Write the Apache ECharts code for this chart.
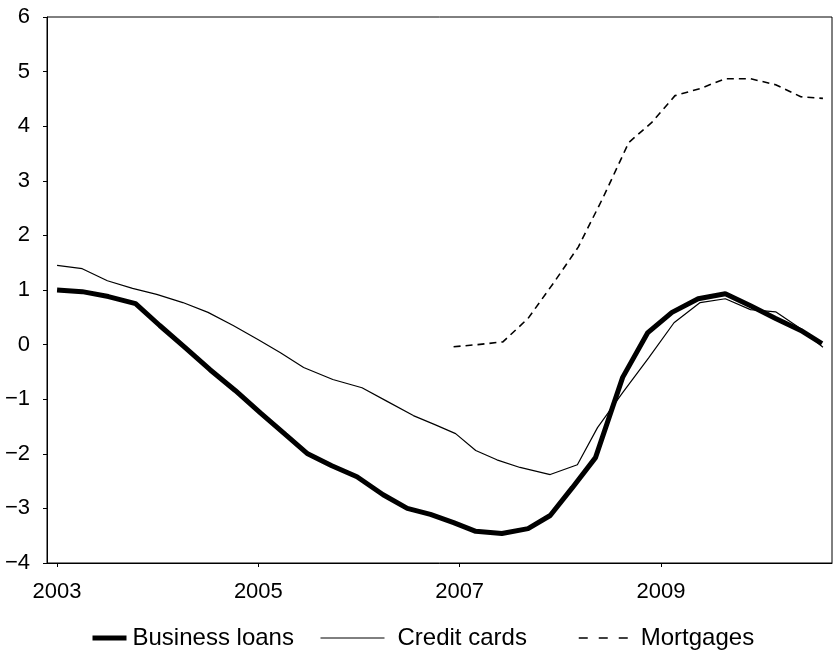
<!DOCTYPE html>
<html>
<head>
<meta charset="utf-8">
<script src="https://cdn.jsdelivr.net/npm/echarts@6/dist/echarts.min.js"></script>
<style>
  html, body { margin: 0; padding: 0; background: #fff; }
  #chart { width: 836px; height: 662px; }
</style>
</head>
<body>
<div id="chart"></div>
<script>
// 数据
const bizYears = [2003.00, 2003.25, 2003.51, 2003.78, 2004.02, 2004.27, 2004.52, 2004.77, 2005.02, 2005.27,
  2005.49, 2005.73, 2005.98, 2006.24, 2006.48, 2006.71, 2006.94, 2007.16, 2007.42, 2007.68,
  2007.90, 2008.12, 2008.35, 2008.62, 2008.87, 2009.11, 2009.37, 2009.64, 2009.89, 2010.14,
  2010.39, 2010.60];
const bizValues = [1.00, 0.97, 0.88, 0.75, 0.35, -0.05, -0.46, -0.84, -1.25, -1.65,
  -2.00, -2.22, -2.42, -2.75, -3.00, -3.11, -3.26, -3.42, -3.46, -3.37,
  -3.13, -2.62, -2.07, -0.60, 0.22, 0.59, 0.84, 0.93, 0.71, 0.48,
  0.26, 0.02];

const cardYears = [2003.00, 2003.25, 2003.50, 2003.75, 2003.99, 2004.25, 2004.50, 2004.75, 2005.00, 2005.22,
  2005.45, 2005.74, 2006.03, 2006.28, 2006.54, 2006.76, 2006.96, 2007.16, 2007.37, 2007.60,
  2007.90, 2008.17, 2008.37, 2008.62, 2008.88, 2009.13, 2009.39, 2009.64, 2009.89, 2010.14,
  2010.39, 2010.61];
const cardValues = [1.45, 1.39, 1.17, 1.03, 0.92, 0.77, 0.59, 0.35, 0.09, -0.15,
  -0.42, -0.64, -0.79, -1.04, -1.30, -1.47, -1.63, -1.94, -2.11, -2.25,
  -2.38, -2.20, -1.52, -0.88, -0.24, 0.40, 0.77, 0.84, 0.64, 0.60,
  0.29, -0.05];

const mortYears = [2006.94, 2007.18, 2007.43, 2007.68, 2007.93, 2008.18, 2008.43, 2008.68, 2008.91, 2009.14,
  2009.39, 2009.64, 2009.89, 2010.14, 2010.39, 2010.61];
const mortValues = [-0.04, 0.00, 0.05, 0.48, 1.12, 1.79, 2.71, 3.70, 4.07, 4.56,
  4.69, 4.87, 4.87, 4.76, 4.54, 4.51];

const xTicks = [2003, 2005, 2007, 2009];
const seriesNames = ['Business loans', 'Credit cards', 'Mortgages'];

function pairs(xs, ys) {
  return xs.map((x, i) => [x, ys[i]]);
}

const fontFamily = '"Liberation Sans", Arial, sans-serif';
let myChart = echarts.init(document.getElementById('chart'));

// 每个图例单独放，图标长度不同
function legendItem(name, left, width, lineStyle, padLeft) {
  return {
    bottom: 12,
    left: left,
    padding: 0,
    itemWidth: width,
    itemHeight: 14,
    data: [name],
    itemStyle: { opacity: 0 },
    lineStyle: lineStyle,
    selectedMode: false,
    textStyle: { color: '#000', fontSize: 24, fontFamily: fontFamily, padding: [0, 0, 0, padLeft] }
  };
}

let option = {
  backgroundColor: '#fff',
  animation: false,
  grid: {
    left: 47,
    right: 4,
    top: 17,
    bottom: 99,
    show: true,
    borderColor: '#000',
    borderWidth: 1
  },
  legend: [
    legendItem(seriesNames[0], 90, 34, { color: '#000', width: 5, type: 'solid', cap: 'butt' }, 1),
    legendItem(seriesNames[1], 320, 64, { color: '#000', width: 1, type: 'solid' }, 8),
    legendItem(seriesNames[2], 578, 49, { color: '#000', width: 1.5, type: [9, 11] }, 8)
  ],
  xAxis: {
    type: 'value',
    min: 2002.9,
    max: 2010.7,
    axisLine: { onZero: false, lineStyle: { color: '#000', width: 1 } },
    axisTick: { show: true, length: 4, customValues: xTicks, lineStyle: { color: '#000' } },
    axisLabel: {
      customValues: xTicks,
      color: '#000',
      fontSize: 22,
      fontFamily: fontFamily,
      margin: 18,
      formatter: v => String(v)
    },
    splitLine: { show: false }
  },
  yAxis: {
    type: 'value',
    min: -4,
    max: 6,
    interval: 1,
    axisLine: { show: true, lineStyle: { color: '#000', width: 1 } },
    axisTick: { show: true, length: 4, lineStyle: { color: '#000' } },
    axisLabel: {
      color: '#000',
      fontSize: 22,
      fontFamily: fontFamily,
      margin: 17,
      formatter: v => String(v).replace('-', '\u2212')
    },
    splitLine: { show: false }
  },
  series: [
    {
      name: seriesNames[0],
      type: 'line',
      symbol: 'none',
      data: pairs(bizYears, bizValues),
      lineStyle: { color: '#000', width: 5 },
      itemStyle: { color: '#000' }
    },
    {
      name: seriesNames[1],
      type: 'line',
      symbol: 'none',
      data: pairs(cardYears, cardValues),
      lineStyle: { color: '#000', width: 1.2 },
      itemStyle: { color: '#000' }
    },
    {
      name: seriesNames[2],
      type: 'line',
      symbol: 'none',
      data: pairs(mortYears, mortValues),
      lineStyle: { color: '#000', width: 1.6, type: [7, 5] },
      itemStyle: { color: '#000' }
    }
  ]
};

option && myChart.setOption(option);
</script>
</body>
</html>
